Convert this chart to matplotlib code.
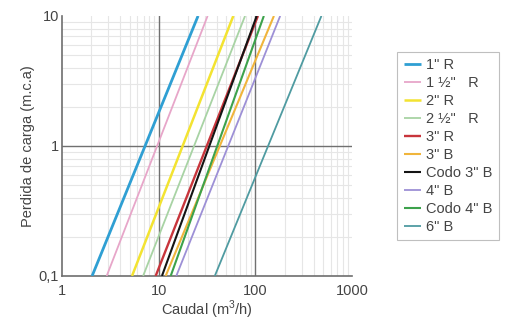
import matplotlib
matplotlib.use("Agg")
import matplotlib.pyplot as plt
from matplotlib.ticker import FixedLocator, LogLocator, NullFormatter

# series names and caudal (m3/h) where each line meets 0.1 and 10 m.c.a
labels = ['1" R', '1 ½"   R', '2" R', '2 ½"   R', '3" R', '3" B',
          'Codo 3" B', '4" B', 'Codo 4" B', '6" B']
q_low = [2.05, 2.9, 5.3, 6.9, 9.3, 11.8, 10.8, 15.2, 13.3, 38.0]
q_high = [25.5, 32.0, 59.0, 78.0, 106.0, 155.0, 103.0, 180.0, 122.0, 480.0]
h_ends = [0.1, 10]
colors = ["#2f9fd3", "#e7a6c9", "#f3e331", "#a8d3a4", "#c8353c", "#f0b53c",
          "#141414", "#9d90d6", "#3da24c", "#4f9ba1"]
widths = [2.0, 1.3, 1.8, 1.3, 1.7, 1.5, 1.5, 1.3, 1.5, 1.3]

plt.rcParams['font.family'] = ['Liberation Sans', 'DejaVu Sans']
plt.rcParams['mathtext.fontset'] = 'custom'
plt.rcParams['mathtext.rm'] = 'Liberation Sans'
fs = 10.5
fig = plt.figure(figsize=(5.12, 3.25), dpi=100)
ax = fig.add_axes([0.121, 0.151, 0.567, 0.8])

ax.set_xscale("log")
ax.set_yscale("log")
ax.set_xlim(1, 1000)
ax.set_ylim(0.1, 10)

ax.xaxis.set_major_locator(FixedLocator([1, 10, 100, 1000]))
ax.set_xticklabels(["1", "10", "100", "1000"])
ax.yaxis.set_major_locator(FixedLocator([0.1, 1, 10]))
ax.set_yticklabels(["0,1", "1", "10"])
ax.xaxis.set_minor_locator(LogLocator(base=10, subs=range(2, 10)))
ax.yaxis.set_minor_locator(LogLocator(base=10, subs=range(2, 10)))
ax.xaxis.set_minor_formatter(NullFormatter())
ax.yaxis.set_minor_formatter(NullFormatter())

ax.grid(which="minor", color="#e6e6e6", lw=0.8, zorder=1)
ax.grid(which="major", visible=False)
for xv in [10, 100]:
    ax.axvline(xv, color="#707070", lw=1.0, zorder=2)
ax.axhline(1, color="#707070", lw=1.0, zorder=2)

for lab, a, b, c, w in zip(labels, q_low, q_high, colors, widths):
    ax.plot([a, b], h_ends, color=c, lw=w, label=lab, solid_capstyle="butt", zorder=3)

ax.tick_params(which="both", length=0, labelsize=fs, colors="#444444", pad=6)
ax.tick_params(axis="y", pad=2)
for s in ["top", "right"]:
    ax.spines[s].set_visible(False)
for s in ["left", "bottom"]:
    ax.spines[s].set_color("#6e6e6e")
    ax.spines[s].set_linewidth(1.2)

ax.set_xlabel("Caudal (m$^3$/h)", fontsize=fs, color="#444444", labelpad=0)
ax.set_ylabel("Perdida de carga (m.c.a)", fontsize=fs, color="#444444", labelpad=3)

leg = ax.legend(loc="upper left", bbox_to_anchor=(1.155, 0.862), fontsize=fs,
                frameon=True, fancybox=False, handlelength=1.2,
                handletextpad=0.35, labelspacing=0.27, borderpad=0.45,
                borderaxespad=0)
leg.get_frame().set_edgecolor("#b0b0b0")
leg.get_frame().set_linewidth(0.8)
for t in leg.get_texts():
    t.set_color("#444444")

fig.savefig("out.png", dpi=100)
